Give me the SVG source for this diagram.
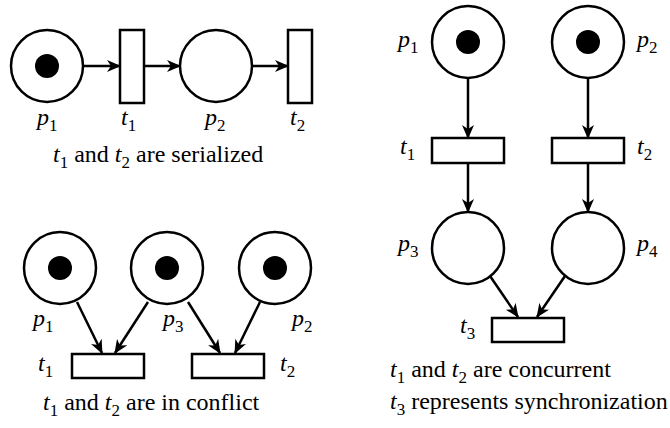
<svg xmlns="http://www.w3.org/2000/svg" width="670" height="428" viewBox="0 0 670 428">
<style>
.pl{fill:#fff;stroke:#000;stroke-width:2.5}
.tr{fill:#fff;stroke:#000;stroke-width:2.5}
.tok{fill:#000}
.arc{fill:none;stroke:#000;stroke-width:2.5;marker-end:url(#ah)}
text{font-family:"Times New Roman","Liberation Serif",serif;font-size:24px;fill:#000}
.i{font-style:italic}
.s{font-size:17px}
</style>
<defs>
<marker id="ah" viewBox="0 0 14 12" refX="13" refY="6" markerWidth="14" markerHeight="12" markerUnits="userSpaceOnUse" orient="auto">
<path d="M0,0 L14,6 L0,12 L4,6 z" fill="#000"/>
</marker>
</defs>
<g id="connectors">
<line class="arc" x1="83" y1="66" x2="120" y2="66"/>
<line class="arc" x1="144" y1="66" x2="180" y2="66"/>
<line class="arc" x1="252" y1="66" x2="288" y2="66"/>
<line class="arc" x1="77" y1="302" x2="102" y2="353"/>
<line class="arc" x1="148" y1="302" x2="115" y2="353"/>
<line class="arc" x1="188" y1="302" x2="220" y2="353"/>
<line class="arc" x1="260" y1="302" x2="235" y2="353"/>
<line class="arc" x1="468" y1="78" x2="468" y2="138"/>
<line class="arc" x1="588" y1="78" x2="588" y2="138"/>
<line class="arc" x1="468" y1="163" x2="468" y2="212"/>
<line class="arc" x1="588" y1="163" x2="588" y2="212"/>
<line class="arc" x1="490" y1="276" x2="518" y2="317"/>
<line class="arc" x1="565" y1="276" x2="537" y2="317"/>
</g>
<g id="s1-p1"><circle class="pl" cx="47" cy="66" r="36"/><circle class="tok" cx="47" cy="66" r="12"/>
<text x="37" y="125"><tspan class="i">p</tspan><tspan class="s" dy="6">1</tspan></text></g>
<g id="s1-t1"><rect class="tr" x="120" y="30" width="24" height="73"/>
<text x="121" y="125"><tspan class="i">t</tspan><tspan class="s" dy="6">1</tspan></text></g>
<g id="s1-p2"><circle class="pl" cx="216" cy="66" r="36"/>
<text x="205" y="125"><tspan class="i">p</tspan><tspan class="s" dy="6">2</tspan></text></g>
<g id="s1-t2"><rect class="tr" x="288" y="30" width="24" height="73"/>
<text x="290" y="125"><tspan class="i">t</tspan><tspan class="s" dy="6">2</tspan></text></g>
<text x="53" y="162"><tspan class="i">t</tspan><tspan class="s" dy="6">1</tspan><tspan dy="-6"> and </tspan><tspan class="i">t</tspan><tspan class="s" dy="6">2</tspan><tspan dy="-6"> are serialized</tspan></text>

<g id="s2-p1"><circle class="pl" cx="60" cy="268" r="36"/><circle class="tok" cx="60" cy="268" r="12"/>
<text x="33" y="326"><tspan class="i">p</tspan><tspan class="s" dy="6">1</tspan></text></g>
<g id="s2-p3"><circle class="pl" cx="167" cy="268" r="36"/><circle class="tok" cx="167" cy="268" r="12"/>
<text x="163" y="326"><tspan class="i">p</tspan><tspan class="s" dy="6">3</tspan></text></g>
<g id="s2-p2"><circle class="pl" cx="275" cy="268" r="36"/><circle class="tok" cx="275" cy="268" r="12"/>
<text x="292" y="326"><tspan class="i">p</tspan><tspan class="s" dy="6">2</tspan></text></g>
<g id="s2-t1"><rect class="tr" x="72" y="354" width="72" height="24"/>
<text x="38" y="371"><tspan class="i">t</tspan><tspan class="s" dy="6">1</tspan></text></g>
<g id="s2-t2"><rect class="tr" x="192" y="354" width="72" height="24"/>
<text x="280" y="371"><tspan class="i">t</tspan><tspan class="s" dy="6">2</tspan></text></g>
<text x="43" y="410"><tspan class="i">t</tspan><tspan class="s" dy="6">1</tspan><tspan dy="-6"> and </tspan><tspan class="i">t</tspan><tspan class="s" dy="6">2</tspan><tspan dy="-6"> are in conflict</tspan></text>

<g id="s3-p1"><circle class="pl" cx="468" cy="42" r="36"/><circle class="tok" cx="468" cy="42" r="12"/>
<text x="398" y="47"><tspan class="i">p</tspan><tspan class="s" dy="6">1</tspan></text></g>
<g id="s3-p2"><circle class="pl" cx="588" cy="42" r="36"/><circle class="tok" cx="588" cy="42" r="12"/>
<text x="637" y="47"><tspan class="i">p</tspan><tspan class="s" dy="6">2</tspan></text></g>
<g id="s3-t1"><rect class="tr" x="432" y="138" width="72" height="25"/>
<text x="400" y="154"><tspan class="i">t</tspan><tspan class="s" dy="6">1</tspan></text></g>
<g id="s3-t2"><rect class="tr" x="552" y="138" width="72" height="25"/>
<text x="637" y="154"><tspan class="i">t</tspan><tspan class="s" dy="6">2</tspan></text></g>
<g id="s3-p3"><circle class="pl" cx="468" cy="248" r="36"/>
<text x="398" y="251"><tspan class="i">p</tspan><tspan class="s" dy="6">3</tspan></text></g>
<g id="s3-p4"><circle class="pl" cx="588" cy="248" r="36"/>
<text x="637" y="251"><tspan class="i">p</tspan><tspan class="s" dy="6">4</tspan></text></g>
<g id="s3-t3"><rect class="tr" x="492" y="318" width="72" height="24"/>
<text x="460" y="333"><tspan class="i">t</tspan><tspan class="s" dy="6">3</tspan></text></g>
<text x="390" y="377"><tspan class="i">t</tspan><tspan class="s" dy="6">1</tspan><tspan dy="-6"> and </tspan><tspan class="i">t</tspan><tspan class="s" dy="6">2</tspan><tspan dy="-6"> are concurrent</tspan></text>
<text x="390" y="409"><tspan class="i">t</tspan><tspan class="s" dy="6">3</tspan><tspan dy="-6"> represents synchronization</tspan></text>
</svg>
